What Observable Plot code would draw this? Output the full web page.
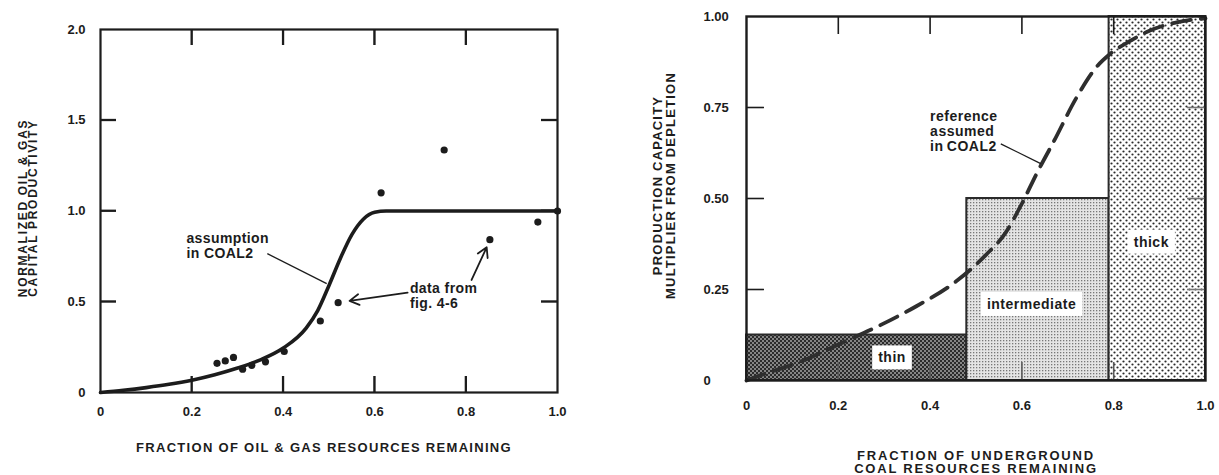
<!DOCTYPE html>
<html>
<head>
<meta charset="utf-8">
<script src="https://cdn.jsdelivr.net/npm/d3@7"></script>
<script src="https://cdn.jsdelivr.net/npm/@observablehq/plot@0.6"></script>
<style>
  body { margin: 0; background: #fff; }
  #wrap { position: relative; width: 1219px; height: 475px; overflow: hidden; background: #fff; }
  #left { position: absolute; left: 0; top: 0; }
  #right { position: absolute; left: 600px; top: 0; }
  svg { font-family: "Liberation Sans", Arial, Helvetica, sans-serif; }
</style>
</head>
<body>
<div id="wrap"><div id="left"></div><div id="right"></div></div>
<script>
// ---------- LEFT PANEL DATA (oil & gas) ----------
const oilTicksX = [0, 0.2, 0.4, 0.6, 0.8, 1.0];
const oilTicksY = [0, 0.5, 1.0, 1.5, 2.0];
const oilInnerTicksX = [0.2, 0.4, 0.6, 0.8];
const oilInnerTicksY = [0.5, 1.0, 1.5];
// data points from fig. 4-6
const oilPointX = [0.255, 0.273, 0.291, 0.311, 0.331, 0.361, 0.402, 0.481, 0.520, 0.614, 0.752, 0.852, 0.957, 1.0];
const oilPointY = [0.161, 0.174, 0.193, 0.128, 0.150, 0.169, 0.226, 0.394, 0.495, 1.10, 1.336, 0.842, 0.939, 1.0];
// assumption in COAL2 curve
const oilCurveX = [0, 0.05, 0.1, 0.15, 0.2, 0.25, 0.3, 0.35, 0.4, 0.45, 0.475, 0.5, 0.525, 0.55, 0.575, 0.6, 0.625, 0.7, 0.8, 0.9, 1.0];
const oilCurveY = [0, 0.012, 0.027, 0.045, 0.068, 0.098, 0.135, 0.18, 0.245, 0.355, 0.45, 0.59, 0.74, 0.87, 0.955, 0.993, 1.0, 1.0, 1.0, 1.0, 1.0];
// annotations
const oilNotes = ["assumption\nin COAL2", "data from\nfig. 4-6"];
const oilNoteX = [0.188, 0.677];
const oilNoteY = [0.81, 0.532];
const oilLeaderX1 = [0.365], oilLeaderY1 = [0.765], oilLeaderX2 = [0.495], oilLeaderY2 = [0.60];
const oilArrowX1 = [0.672, 0.812], oilArrowY1 = [0.55, 0.62];
const oilArrowX2 = [0.545, 0.845], oilArrowY2 = [0.505, 0.80];
const oilTitleX = ["FRACTION OF OIL & GAS RESOURCES REMAINING"];
const oilTitleY = ["NORMALIZED OIL & GAS\nCAPITAL PRODUCTIVITY"];

// ---------- RIGHT PANEL DATA (coal) ----------
const coalTicksX = [0, 0.2, 0.4, 0.6, 0.8, 1.0];
const coalTicksY = [0, 0.25, 0.5, 0.75, 1.0];
const coalInnerTicksX = [0.2, 0.4, 0.6, 0.8];
const coalInnerTicksY = [0.25, 0.5, 0.75];
const seamNames = ["thin", "intermediate", "thick"];
const seamStart = [0, 0.48, 0.79];
const seamEnd = [0.48, 0.79, 1.0];
const seamHeight = [0.125, 0.5, 1.0];
const seamLabelX = [0.317, 0.621, 0.882];
const seamLabelY = [0.062, 0.209, 0.38];
// reference curve assumed in COAL2 (dashed)
const refCurveX = [0, 0.03, 0.12, 0.2, 0.29, 0.37, 0.45, 0.52, 0.565, 0.6, 0.634, 0.67, 0.718, 0.765, 0.79, 0.836, 0.878, 0.93, 1.0];
const refCurveY = [0, 0.014, 0.053, 0.099, 0.151, 0.204, 0.266, 0.343, 0.407, 0.486, 0.573, 0.658, 0.775, 0.865, 0.895, 0.933, 0.961, 0.982, 0.995];
const coalNote = ["reference\nassumed\nin\u2009COAL2"];
const coalNoteX = [0.40], coalNoteY = [0.685];
const coalLeaderX1 = [0.554], coalLeaderY1 = [0.65], coalLeaderX2 = [0.641], coalLeaderY2 = [0.596];
const coalTitleX = ["FRACTION OF UNDERGROUND\nCOAL RESOURCES REMAINING"];
const coalTitleY = ["PRODUCTION CAPACITY\nMULTIPLIER FROM DEPLETION"];

const FONT = '"Liberation Sans", Arial, Helvetica, sans-serif';
const INK = "#1c1c1c";
const fmt1 = d => d === 0 ? "0" : d.toFixed(1);
const fmt2 = d => d === 0 ? "0" : d.toFixed(2);

// inward tick marks: rules spanning the frame, inset so only `len` px remain at one side
function inTicks(values, side, len, W, H, color, width) {
  if (side === "bottom") return Plot.ruleX(values, {x: d => d, insetTop: H - len, stroke: color, strokeWidth: width});
  if (side === "top") return Plot.ruleX(values, {x: d => d, insetBottom: H - len, stroke: color, strokeWidth: width});
  if (side === "left") return Plot.ruleY(values, {y: d => d, insetRight: W - len, stroke: color, strokeWidth: width});
  return Plot.ruleY(values, {y: d => d, insetLeft: W - len, stroke: color, strokeWidth: width});
}

// ---------- LEFT PLOT ----------
const LW = 600 - 100 - 43, LH = 475 - 29 - 83;
const leftSvg = Plot.plot({
  width: 600, height: 475, marginLeft: 100, marginRight: 43, marginTop: 29, marginBottom: 83,
  x: {domain: [0, 1]},
  y: {domain: [0, 2]},
  style: {fontFamily: FONT, fontWeight: "bold", fontSize: "13px", color: INK},
  marks: [
    Plot.axisX(oilTicksX, {anchor: "bottom", tickSize: 0, tickPadding: 14, tickFormat: fmt1, fontSize: 13, label: null}),
    Plot.axisY(oilTicksY, {anchor: "left", tickSize: 0, tickPadding: 15, tickFormat: fmt1, fontSize: 13, label: null}),
    Plot.line(oilCurveX, {x: oilCurveX, y: oilCurveY, curve: "monotone-x", stroke: INK, strokeWidth: 3.6}),
    Plot.dot(oilPointX, {x: oilPointX, y: oilPointY, r: 3.6, fill: INK}),
    Plot.link(oilLeaderX1, {x1: oilLeaderX1, y1: oilLeaderY1, x2: oilLeaderX2, y2: oilLeaderY2, stroke: INK, strokeWidth: 1.3}),
    Plot.arrow(oilArrowX1, {x1: oilArrowX1, y1: oilArrowY1, x2: oilArrowX2, y2: oilArrowY2, stroke: INK, strokeWidth: 1.8, headLength: 9}),
    Plot.text(oilNotes, {x: oilNoteX, y: oilNoteY, text: d => d, textAnchor: "start", lineAnchor: "middle", fontSize: 14, lineHeight: 1.05, fill: INK}),
    Plot.frame({stroke: INK, strokeWidth: 2.2}),
    Plot.text(oilTitleX, {frameAnchor: "bottom", dx: -5, dy: 55, text: d => d, textAnchor: "middle", lineAnchor: "middle", fontSize: 13, fill: INK}),
    Plot.text(oilTitleY, {frameAnchor: "left", dx: -72, dy: -3, rotate: -90, text: d => d, textAnchor: "middle", lineAnchor: "middle", fontSize: 12, lineHeight: 0.85, fill: INK}),
    inTicks(oilInnerTicksX, "bottom", 16, LW, LH, INK, 1.8),
    inTicks(oilInnerTicksX, "top", 16, LW, LH, INK, 1.8),
    inTicks(oilInnerTicksY, "left", 16, LW, LH, INK, 1.8),
    inTicks(oilInnerTicksY, "right", 16, LW, LH, INK, 1.8)
  ]
});
document.getElementById("left").appendChild(leftSvg);

// ---------- RIGHT PLOT ----------
const RW = 619 - 146 - 14, RH = 475 - 16 - 95;
const rightSvg = Plot.plot({
  width: 619, height: 475, marginLeft: 146, marginRight: 14, marginTop: 16, marginBottom: 95,
  x: {domain: [0, 1]},
  y: {domain: [0, 1]},
  color: {type: "ordinal", domain: seamNames, range: ["url(#pThin)", "url(#pInter)", "url(#pThick)"]},
  style: {fontFamily: FONT, fontWeight: "bold", fontSize: "13px", color: INK},
  marks: [
    Plot.rect(seamNames, {
      x1: (d, i) => seamStart[i], x2: (d, i) => seamEnd[i],
      y1: 0, y2: (d, i) => seamHeight[i],
      fill: d => d, stroke: "#2a2a2a", strokeWidth: 2
    }),
    inTicks(coalInnerTicksX, "bottom", 18, RW, RH, "#5a5a5a", 1.6),
    inTicks(coalInnerTicksX, "top", 18, RW, RH, INK, 1.6),
    inTicks(coalInnerTicksY, "left", 18, RW, RH, INK, 1.6),
    inTicks(coalInnerTicksY, "right", 18, RW, RH, "#777777", 1.6),
    Plot.axisX(coalTicksX, {anchor: "bottom", tickSize: 0, tickPadding: 20, tickFormat: fmt1, fontSize: 13, label: null}),
    Plot.axisY(coalTicksY, {anchor: "left", tickSize: 0, tickPadding: 43, textAnchor: "start", tickFormat: fmt2, fontSize: 13, label: null}),
    Plot.line(refCurveX, {x: refCurveX, y: refCurveY, curve: "monotone-x", stroke: "#2e2e2e", strokeWidth: 3.8, strokeDasharray: "19,10"}),
    Plot.text(seamNames, {x: seamLabelX, y: seamLabelY, text: d => d, fontSize: 14, fill: INK}),
    Plot.link(coalLeaderX1, {x1: coalLeaderX1, y1: coalLeaderY1, x2: coalLeaderX2, y2: coalLeaderY2, stroke: INK, strokeWidth: 1.3}),
    Plot.text(coalNote, {x: coalNoteX, y: coalNoteY, text: d => d, textAnchor: "start", lineAnchor: "middle", fontSize: 14, lineHeight: 1.05, fill: INK}),
    Plot.frame({stroke: INK, strokeWidth: 2.4}),
    Plot.text(coalTitleX, {frameAnchor: "bottom", dy: 81.5, text: d => d, textAnchor: "middle", lineAnchor: "middle", fontSize: 13, lineHeight: 1.0, fill: INK}),
    Plot.text(coalTitleY, {frameAnchor: "left", dx: -82.5, dy: -13, rotate: -90, text: d => d, textAnchor: "middle", lineAnchor: "middle", fontSize: 13, lineHeight: 1.0, fill: INK})
  ]
});
document.getElementById("right").appendChild(rightSvg);

// extra pass for the inward ticks, positioned through Plot's own x and y scales
function addInnerTicks(svg, xs, ys, len, colors, width) {
  const sx = svg.scale("x"), sy = svg.scale("y");
  const [xl, xr] = sx.range, [yb, yt] = sy.range;
  const g = d3.select(svg).append("g").attr("stroke-width", width).attr("fill", "none");
  xs.forEach(v => {
    const px = sx.apply(v);
    g.append("line").attr("x1", px).attr("x2", px).attr("y1", yb).attr("y2", yb - len).attr("stroke", colors.bottom);
    g.append("line").attr("x1", px).attr("x2", px).attr("y1", yt).attr("y2", yt + len).attr("stroke", colors.top);
  });
  ys.forEach(v => {
    const py = sy.apply(v);
    g.append("line").attr("y1", py).attr("y2", py).attr("x1", xl).attr("x2", xl + len).attr("stroke", colors.left);
    g.append("line").attr("y1", py).attr("y2", py).attr("x1", xr).attr("x2", xr - len).attr("stroke", colors.right);
  });
}
addInnerTicks(leftSvg, oilInnerTicksX, oilInnerTicksY, 16, {bottom: INK, top: INK, left: INK, right: INK}, 1.8);

// pattern fills for the seam regions
const defs = d3.select(rightSvg).insert("defs", ":first-child");
const pThin = defs.append("pattern").attr("id", "pThin").attr("patternUnits", "userSpaceOnUse").attr("width", 4).attr("height", 4);
pThin.append("rect").attr("width", 4).attr("height", 4).attr("fill", "#858585");
pThin.append("rect").attr("x", 0).attr("y", 0).attr("width", 2).attr("height", 2).attr("fill", "#2b2b2b");
pThin.append("rect").attr("x", 2).attr("y", 2).attr("width", 2).attr("height", 2).attr("fill", "#2b2b2b");
const pInter = defs.append("pattern").attr("id", "pInter").attr("patternUnits", "userSpaceOnUse").attr("width", 3).attr("height", 3);
pInter.append("rect").attr("width", 3).attr("height", 3).attr("fill", "#e4e4e4");
pInter.append("rect").attr("x", 1).attr("y", 1).attr("width", 1.3).attr("height", 1.3).attr("fill", "#777");
const pThick = defs.append("pattern").attr("id", "pThick").attr("patternUnits", "userSpaceOnUse").attr("width", 6).attr("height", 6);
pThick.append("rect").attr("width", 6).attr("height", 6).attr("fill", "#ffffff");
pThick.append("circle").attr("cx", 1.5).attr("cy", 1.5).attr("r", 1.1).attr("fill", "#2a2a2a");
pThick.append("circle").attr("cx", 4.5).attr("cy", 4.5).attr("r", 1.1).attr("fill", "#2a2a2a");

// letter spacing of titles and labels, matched by their text
function spaceText(svg, texts, ls) {
  d3.select(svg).selectAll("text")
    .filter(function() { return texts.some(t => this.textContent.replace(/\s+/g, "") === t.replace(/\s+/g, "")); })
    .style("letter-spacing", ls);
}
spaceText(leftSvg, oilTitleX, "1.3px");
spaceText(leftSvg, oilTitleY, "1.7px");
spaceText(leftSvg, oilNotes, "0.4px");
spaceText(rightSvg, coalTitleX, "1.8px");
spaceText(rightSvg, coalTitleY, "1.2px");
spaceText(rightSvg, coalNote, "0.5px");
spaceText(rightSvg, seamNames, "0.5px");

// white boxes behind the seam labels
d3.select(rightSvg).selectAll("text")
  .filter(function() { return seamNames.includes(this.textContent); })
  .each(function() {
    const b = this.getBBox();
    const padX = 6, padY = 4;
    d3.select(this.parentNode).insert("rect", () => this)
      .attr("x", b.x - padX).attr("y", b.y - padY)
      .attr("width", b.width + 2 * padX).attr("height", b.height + 2 * padY)
      .attr("transform", this.getAttribute("transform"))
      .attr("fill", "#fff");
  });
</script>
</body>
</html>
